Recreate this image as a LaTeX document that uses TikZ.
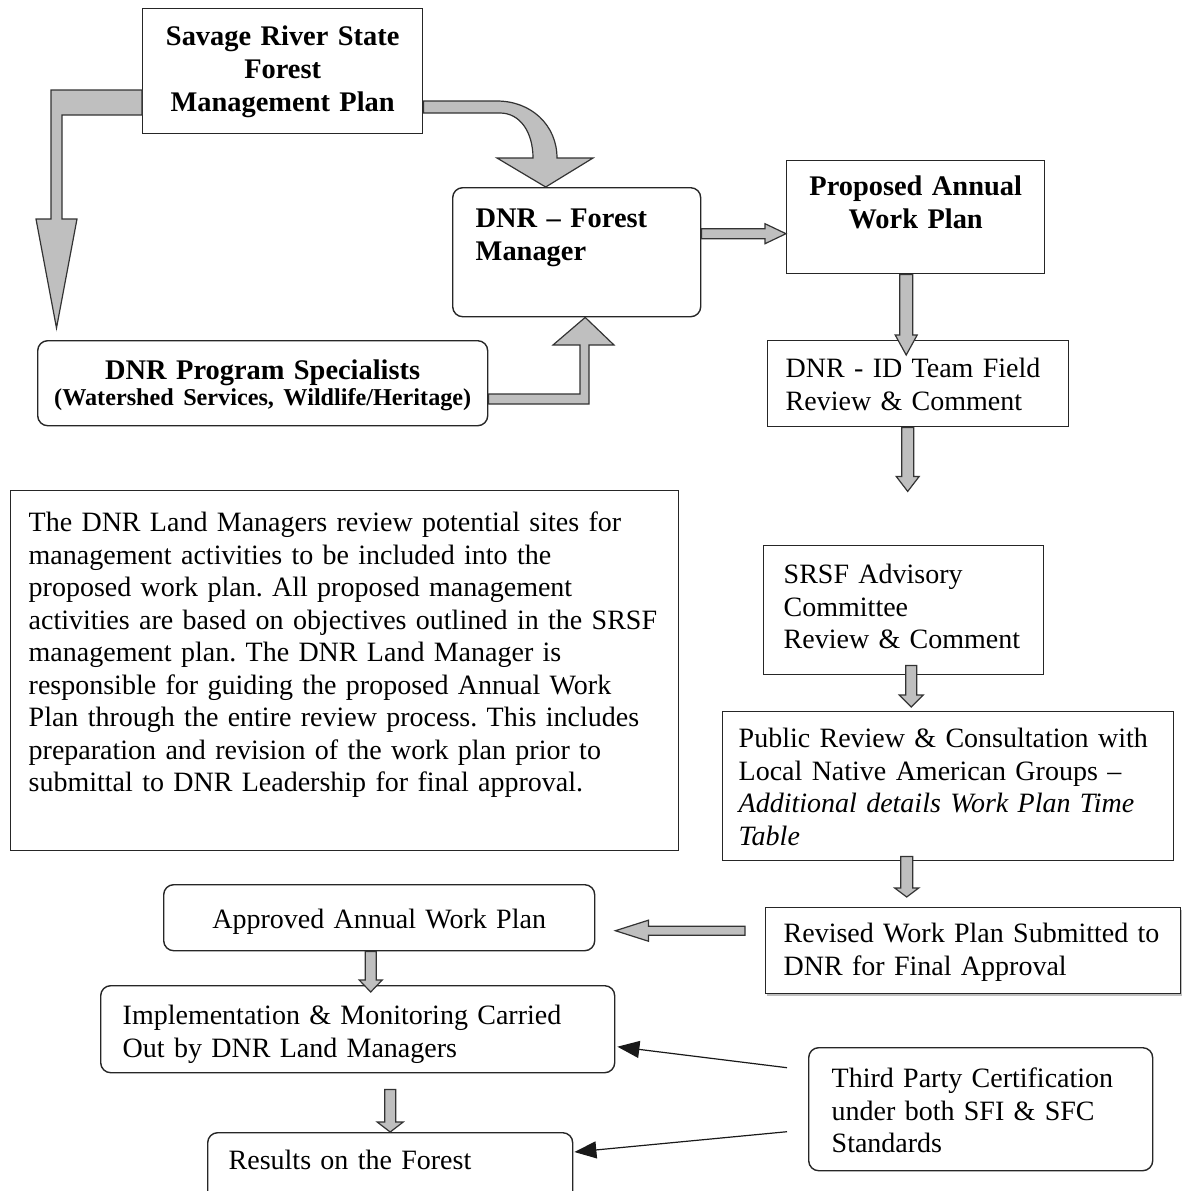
\documentclass[tikz,border=0pt]{standalone}
\usepackage{fontspec}
\setmainfont{Liberation Serif}
\usetikzlibrary{arrows.meta,calc,shadows}
\tikzset{
 box/.style={draw=black!85, line width=0.7pt, anchor=north west, inner ysep=0pt, align=left, font=\fontsize{14}{16.25}\selectfont},
 rbox/.style={box, rounded corners=5pt},
 boldtext/.style={font=\bfseries\fontsize{14.2}{16.5}\selectfont},
 blockarr/.style={draw=black!80, fill=black!25, line width=0.6pt, line join=miter},
 thinarr/.style={draw=black!90, line width=0.6pt, -{Triangle[length=11pt,width=8.5pt]}}
}
%fat gray arrow going down: shaft half, head half, head length, from, tip
\newcommand{\vblock}[5]{\draw[blockarr] let \p1=#4, \p2=#5 in (\x2-#1,\y1) -- (\x2-#1,\y2+#3) -- (\x2-#2,\y2+#3) -- (\x2,\y2) -- (\x2+#2,\y2+#3) -- (\x2+#1,\y2+#3) -- (\x2+#1,\y1) -- cycle;}
%fat gray arrow going sideways
\newcommand{\hblock}[5]{\draw[blockarr] let \p1=#4, \p2=#5, \n1={ifthenelse(\x1>\x2,1,-1)} in (\x1,\y2+#1) -- ({\x2+(\n1)*#3},\y2+#1) -- ({\x2+(\n1)*#3},\y2+#2) -- (\x2,\y2) -- ({\x2+(\n1)*#3},\y2-#2) -- ({\x2+(\n1)*#3},\y2-#1) -- (\x1,\y2-#1) -- cycle;}

\begin{document}
\frenchspacing
\begin{tikzpicture}[x=0.5pt,y=-0.5pt]
\useasboundingbox (0,0) rectangle (1182,1191);
\clip (0,0) rectangle (1182,1191);
%top of the chart
\node[box, boldtext, align=center, inner xsep=0pt, text width=140pt, text height=18.5pt, text depth=44pt] (savage) at (142,8) {Savage River State\\Forest\\Management Plan};
\node[rbox, boldtext, inner xsep=11.5pt, text width=101pt, text height=20pt, text depth=44.5pt] (dnrfm) at (452,187) {DNR – Forest\\Manager};
\node[rbox, align=center, inner xsep=0pt, text width=225pt, text height=19.5pt, text depth=23pt, font=\bfseries\fontsize{14.2}{16.25}\selectfont] (specialists) at (37,340) {DNR Program Specialists\\[-3.25pt]{\fontsize{12.1}{13}\selectfont(Watershed Services, Wildlife/Heritage)}};
\node[box, boldtext, align=center, inner xsep=0pt, text width=129pt, text height=17.5pt, text depth=39pt] (proposed) at (786,160) {Proposed Annual\\Work Plan};
%review steps on the right
\node[box, inner xsep=9pt, text width=132.5pt, text height=18.5pt, text depth=24.5pt] (dnrid) at (767,340) {DNR - ID Team Field\\Review \& Comment};
\node[box, inner xsep=10pt, text width=120pt, text height=19pt, text depth=45.5pt] (srsf) at (763,545) {SRSF Advisory\\Committee\\Review \& Comment};
\node[box, inner xsep=8pt, text width=209.5pt, text height=18pt, text depth=56.5pt] (public) at (722,711) {Public Review \& Consultation with\\Local Native American Groups –\\\textit{Additional details Work Plan Time}\\\textit{Table}};
\node[box, fill=white, drop shadow={shadow xshift=0.8pt, shadow yshift=-1.2pt, fill=black!50}, inner xsep=9pt, text width=189.5pt, text height=17.5pt, text depth=25.5pt] (revised) at (765,907) {Revised Work Plan Submitted to\\DNR for Final Approval};
\node[rbox, inner xsep=11.5pt, text width=149pt, text height=20pt, text depth=41.5pt] (third) at (808,1047) {Third Party Certification\\under both SFI \& SFC\\Standards};
%notes and the bottom left chain
\node[box, inner xsep=9pt, text width=316pt, text height=20.5pt, text depth=159.5pt] (notes) at (10,490) {The DNR Land Managers review potential sites for\\management activities to be included into the\\proposed work plan. All proposed management\\activities are based on objectives outlined in the SRSF\\management plan. The DNR Land Manager is\\responsible for guiding the proposed Annual Work\\Plan through the entire review process. This includes\\preparation and revision of the work plan prior to\\submittal to DNR Leadership for final approval.};
\node[rbox, align=center, inner xsep=0pt, text width=215.5pt, text height=22pt, text depth=11pt] (approved) at (163,884) {Approved Annual Work Plan};
\node[rbox, inner xsep=11pt, text width=235pt, text height=19.5pt, text depth=24pt] (impl) at (100,985) {Implementation \& Monitoring Carried\\Out by DNR Land Managers};
\node[rbox, inner xsep=10.5pt, text width=161.5pt, text height=18.5pt, text depth=30pt] (results) at (207,1132) {Results on the Forest};
%bent and curved arrows at the top
\draw[blockarr] (savage.west |- 0,90) -| (51,219) -- (36,219) -- (56.5,328) -- (77,219) -- (62,219) |- (savage.west |- 0,115) -- cycle;
\draw[blockarr] (savage.east |- 0,101) -- (497,101) .. controls (531,101) and (557,125) .. (557,158) -- (593,158) -- ($(dnrfm.north)+(-31,0)$) -- (497,158) -- (533,158) .. controls (533,132) and (520,113) .. (500,113) -- (savage.east |- 0,113) -- cycle;
\draw[blockarr] (specialists.east |- 0,394) -- (580,394) -- (580,345) -- (553,345) -- ($(dnrfm.south)+(8.5,0)$) -- (614,345) -- (589,345) -- (589,404) -- (specialists.east |- 0,404) -- cycle;
\hblock{2.5pt}{5pt}{10.5pt}{(dnrfm.east)}{($(proposed.west)+(0,16.5)$)}
%straight arrows down the right side
\vblock{3.25pt}{5.5pt}{10pt}{(proposed.south)}{($(dnrid.north)+(-12,15)$)}
\vblock{3pt}{5.75pt}{7.5pt}{(dnrid.south)}{($(dnrid.south)+(-10.5,64)$)}
\vblock{2.75pt}{6pt}{6pt}{($(srsf.south)+(0,-10)$)}{($(public.north)+(-37,-4)$)}
\vblock{3pt}{6pt}{4.5pt}{($(public.south)+(0,-5)$)}{($(revised.north)+(-66.5,-10)$)}
\hblock{2.25pt}{5.25pt}{16.5pt}{($(revised.west)+(-20,0)$)}{($(approved.east)+(20,13)$)}
\vblock{2.75pt}{5.75pt}{6pt}{(approved.south)}{($(impl.north)+(13,7)$)}
\vblock{2.75pt}{6.5pt}{5pt}{($(impl.south)+(33,16)$)}{(results.north)}
%certification arrows
\draw[thinarr] ($(third.west)+(-21,-41.5)$) -- ($(impl.east)+(2,17.5)$);
\draw[thinarr] ($(third.west)+(-21,22.5)$) -- ($(results.north east)+(1,20)$);
\end{tikzpicture}
\end{document}
